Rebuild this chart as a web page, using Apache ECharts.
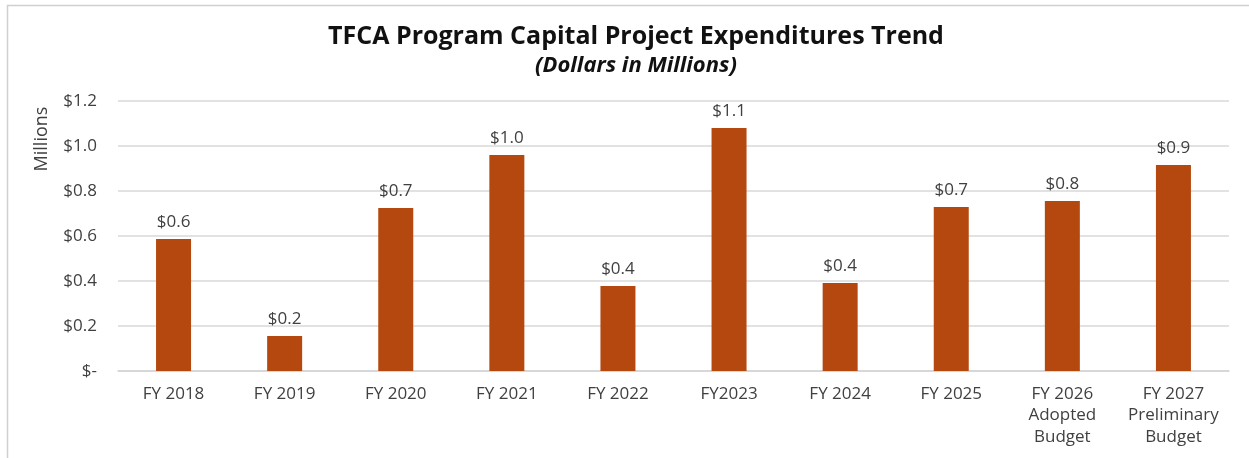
<!DOCTYPE html>
<html>
<head>
<meta charset="utf-8">
<script src="https://cdn.jsdelivr.net/npm/echarts@6/dist/echarts.min.js"></script>
<style>
  html, body { margin: 0; padding: 0; background: #fff; }
  #chart { width: 1249px; height: 458px; }
</style>
</head>
<body>
<div id="chart"></div>
<script>
const categories = [
  'FY 2018', 'FY 2019', 'FY 2020', 'FY 2021', 'FY 2022',
  'FY2023', 'FY 2024', 'FY 2025', 'FY 2026\nAdopted\nBudget', 'FY 2027\nPreliminary\nBudget'
]
const expenditures = [0.587, 0.156, 0.724, 0.96, 0.378, 1.08, 0.391, 0.729, 0.756, 0.916]
const yTicks = [0, 0.2, 0.4, 0.6, 0.8, 1.0, 1.2]

const chart = echarts.init(document.getElementById('chart'))

const option = {
  animation: false,
  backgroundColor: '#fff',
  textStyle: { fontFamily: '"Open Sans", sans-serif' },
  title: {
    text: 'TFCA Program Capital Project Expenditures Trend',
    subtext: '(Dollars in Millions)',
    left: 631,
    textAlign: 'center',
    top: 19,
    itemGap: 6,
    textStyle: { fontSize: 25, fontWeight: 'bold', color: '#111', fontFamily: '"Open Sans", sans-serif' },
    subtextStyle: { fontSize: 22, fontWeight: 'bold', fontStyle: 'italic', color: '#111', fontFamily: '"Open Sans", sans-serif' }
  },
  graphic: [
    {
      type: 'rect',
      shape: { x: 7.5, y: 5.5, width: 1260, height: 460 },
      style: { fill: 'none', stroke: '#d0d0d0', lineWidth: 1.5 },
      silent: true
    },
    {
      type: 'text',
      x: 42,
      y: 139,
      rotation: Math.PI / 2,
      style: {
        text: 'Millions',
        fontSize: 18,
        fill: '#404040',
        fontFamily: '"Open Sans", sans-serif',
        align: 'center',
        verticalAlign: 'middle'
      }
    }
  ],
  grid: {
    left: 118,
    right: 20,
    top: 101,
    bottom: 87,
    containLabel: false
  },
  xAxis: {
    type: 'category',
    data: categories,
    axisTick: { show: false },
    axisLine: { show: true, lineStyle: { color: '#d4d4d4', width: 1.5 } },
    axisLabel: {
      color: '#404040',
      fontSize: 17,
      lineHeight: 21.5,
      margin: 12,
      interval: 0
    }
  },
  yAxis: {
    type: 'value',
    min: 0,
    max: 1.2,
    interval: 0.2,
    axisLine: { show: false },
    axisTick: { show: false },
    splitLine: { lineStyle: { color: '#d9d9d9', width: 1.5 } },
    axisLabel: {
      color: '#404040',
      fontSize: 17,
      margin: 21,
      formatter: (v) => {
        const t = yTicks.find(x => Math.abs(x - v) < 1e-9)
        if (t === 0) return '$-'
        return '$' + v.toFixed(1)
      }
    }
  },
  series: [{
    type: 'bar',
    data: expenditures,
    barWidth: 35,
    itemStyle: { color: '#B5480E' },
    label: {
      show: true,
      position: 'top',
      distance: 8,
      color: '#404040',
      fontSize: 17,
      formatter: (p) => '$' + p.value.toFixed(1)
    }
  }]
}

chart.setOption(option)
</script>
</body>
</html>
